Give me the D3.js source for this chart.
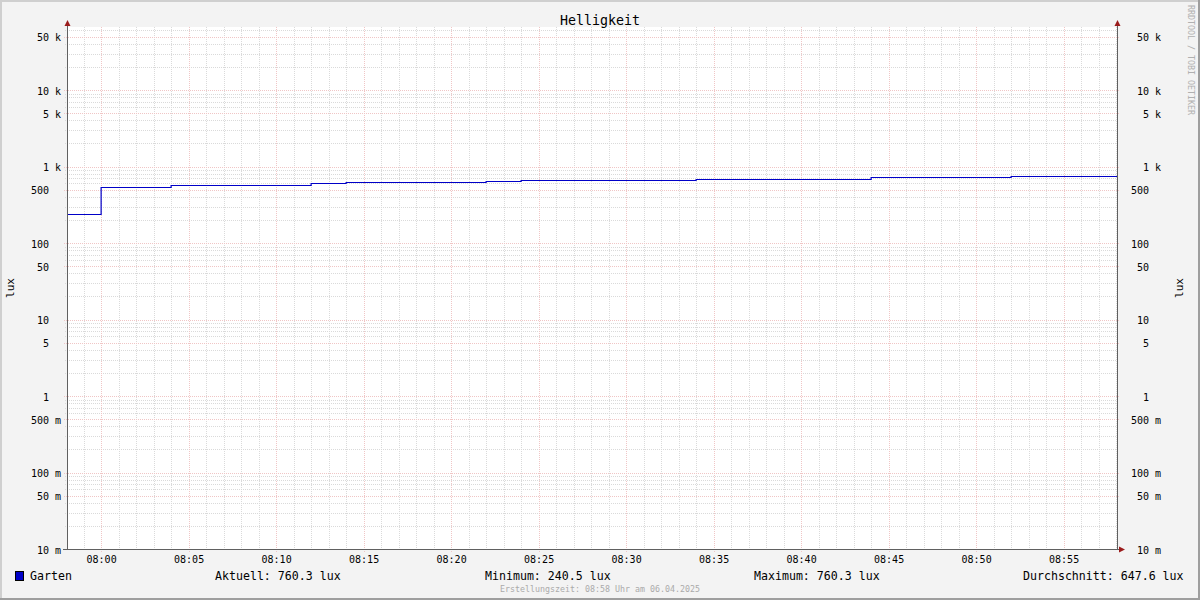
<!DOCTYPE html>
<html><head><meta charset="utf-8">
<script src="https://cdn.jsdelivr.net/npm/d3@7"></script>
<style>html,body{margin:0;padding:0;background:#f3f3f3;}svg{display:block;}</style>
</head><body>
<script>
// ---- data ----
const title = "Helligkeit";
const seriesName = "Garten";
const times = ["07:58:03","08:00:00","08:04:00","08:12:00","08:14:00","08:22:00","08:24:00","08:34:00","08:44:00","08:52:00","08:58:03"];
const values = [240.5, 532, 570, 600, 625, 645, 665, 688, 732, 760.3, 760.3];
const yTickValues = [0.01, 0.05, 0.1, 0.5, 1, 5, 10, 50, 100, 500, 1000, 5000, 10000, 50000];
const yTickNums = ["10","50","100","500","1","5","10","50","100","500","1","5","10","50"];
const yTickUnits = ["m","m","m","m"," "," "," "," "," "," ","k","k","k","k"];
const xTickLabels = ["08:00","08:05","08:10","08:15","08:20","08:25","08:30","08:35","08:40","08:45","08:50","08:55"];
const legendStats = ["Aktuell: 760.3 lux","Minimum: 240.5 lux","Maximum: 760.3 lux","Durchschnitt: 647.6 lux"];
const footer = "Erstellungszeit: 08:58 Uhr am 06.04.2025";
const watermark = "RRDTOOL / TOBI OETIKER";
const yLabel = "lux";

// ---- layout ----
const W = 1200, H = 600;
const X0 = 67, X1 = 1117, Y0 = 549, Y1 = 27;
const parse = s => { const [h,m,sec] = s.split(":").map(Number); return new Date(Date.UTC(2025,3,6,h,m,sec)); };
const start = parse(times[0]), end = parse(times[times.length-1]);
const x = d3.scaleUtc().domain([start, end]).range([X0, X1]);
const pxPerDecade = 76.5;
const yTop = Math.pow(10, -2 + (Y0 - Y1) / pxPerDecade);
const y = d3.scaleLog().domain([0.01, yTop]).range([Y0, Y1]);

const svg = d3.select("body").append("svg").attr("width", W).attr("height", H)
  .attr("font-family", "'DejaVu Sans Mono', monospace");

// background & frame
svg.append("rect").attr("width", W).attr("height", H).attr("fill", "#f3f3f3");
svg.append("rect").attr("x",0).attr("y",0).attr("width",W).attr("height",2).attr("fill","#cfcfcf");
svg.append("rect").attr("x",0).attr("y",0).attr("width",2).attr("height",H).attr("fill","#cfcfcf");
svg.append("rect").attr("x",W-2).attr("y",0).attr("width",2).attr("height",H).attr("fill","#9e9e9e");
svg.append("rect").attr("x",0).attr("y",H-2).attr("width",W).attr("height",2).attr("fill","#9e9e9e");

svg.append("rect").attr("x", X0).attr("y", Y1).attr("width", X1 - X0).attr("height", Y0 - Y1).attr("fill", "#ffffff");

const grid = svg.append("g").attr("shape-rendering", "crispEdges");
const minorCol = "#dadada", majorCol = "#f0c6c6";

// horizontal minor grid
const minorY = [];
for (let k = -2; k <= 4; k++) for (const m of [2,3,4,6,7,8,9]) { const v = m * Math.pow(10,k); if (v < yTop) minorY.push(v); }
grid.selectAll(".hmin").data(minorY).join("line")
  .attr("x1", X0 - 2).attr("x2", X1 + 2)
  .attr("y1", d => Math.round(y(d)) + 0.5).attr("y2", d => Math.round(y(d)) + 0.5)
  .attr("stroke", minorCol).attr("stroke-dasharray", "1,1");

// vertical minor grid (each minute)
const minuteTicks = d3.utcMinute.every(1).range(start, end).filter(d => d > start);
const fiveTicks = minuteTicks.filter(d => d.getUTCMinutes() % 5 === 0);
grid.selectAll(".vmin").data(minuteTicks.filter(d => d.getUTCMinutes() % 5 !== 0)).join("line")
  .attr("x1", d => Math.round(x(d)) + 0.5).attr("x2", d => Math.round(x(d)) + 0.5)
  .attr("y1", Y1).attr("y2", Y0 + 2)
  .attr("stroke", minorCol).attr("stroke-dasharray", "1,1");

// major grids
grid.selectAll(".hmaj").data(yTickValues).join("line")
  .attr("x1", X0 - 3).attr("x2", X1 + 3)
  .attr("y1", d => Math.round(y(d)) + 0.5).attr("y2", d => Math.round(y(d)) + 0.5)
  .attr("stroke", majorCol).attr("stroke-dasharray", "1,1");
grid.selectAll(".vmaj").data(fiveTicks).join("line")
  .attr("x1", d => Math.round(x(d)) + 0.5).attr("x2", d => Math.round(x(d)) + 0.5)
  .attr("y1", Y1).attr("y2", Y0 + 3)
  .attr("stroke", majorCol).attr("stroke-dasharray", "1,1");

// data line
const pts = times.map((t, i) => ({t: parse(t), v: values[i]}));
svg.append("path").datum(pts)
  .attr("d", d3.line().x(d => x(d.t)).y(d => Math.round(y(d.v)) + 0.5).curve(d3.curveStepAfter))
  .attr("fill", "none").attr("stroke", "#0000c8").attr("stroke-width", 1.2);

// axes lines
const ax = svg.append("g").attr("shape-rendering", "crispEdges").attr("stroke", "#606060");
ax.append("line").attr("x1", X0 + 0.5).attr("x2", X0 + 0.5).attr("y1", Y1 - 3).attr("y2", Y0 + 1);
ax.append("line").attr("x1", X1 + 0.5).attr("x2", X1 + 0.5).attr("y1", Y1 - 3).attr("y2", Y0 + 1);
ax.append("line").attr("x1", X0 - 4).attr("x2", X1 + 3).attr("y1", Y0 + 0.5).attr("y2", Y0 + 0.5);

// arrows
const arrowCol = "#9b1c1c";
svg.append("path").attr("d", `M${X0-2.5},${Y1-1}L${X0+0.5},${Y1-7}L${X0+3.5},${Y1-1}Z`).attr("fill", arrowCol);
svg.append("path").attr("d", `M${X1-2.5},${Y1-1}L${X1+0.5},${Y1-7}L${X1+3.5},${Y1-1}Z`).attr("fill", arrowCol);
svg.append("path").attr("d", `M${X1+2},${Y0-2.5}L${X1+8},${Y0+0.5}L${X1+2},${Y0+3.5}Z`).attr("fill", arrowCol);

// y tick labels
const tl = svg.append("g").attr("font-size", "10px").attr("fill", "#000");
tl.selectAll(".yl").data(yTickValues).join("text")
  .attr("x", X0 - 6).attr("y", d => y(d) + 4.5)
  .attr("text-anchor", "end").style("white-space", "pre")
  .text((d, i) => yTickNums[i] + " " + yTickUnits[i]);
tl.selectAll(".yr").data(yTickValues).join("text")
  .attr("x", X1 + 14).attr("y", d => y(d) + 4.5)
  .attr("text-anchor", "start").style("white-space", "pre")
  .text((d, i) => yTickNums[i].padStart(3, " ") + " " + yTickUnits[i]);

// x tick labels
tl.selectAll(".xl").data(fiveTicks).join("text")
  .attr("x", d => x(d) + 0.5).attr("y", Y0 + 14)
  .attr("text-anchor", "middle")
  .text((d, i) => xTickLabels[i]);

// title
svg.append("text").attr("x", 600).attr("y", 25).attr("text-anchor", "middle")
  .attr("font-size", "13.3px").attr("fill", "#000").text(title);

// y labels
svg.append("text").attr("transform", "translate(14,288) rotate(-90)").attr("text-anchor", "middle")
  .attr("font-size", "11px").attr("fill", "#000").text(yLabel);
svg.append("text").attr("transform", "translate(1183,288) rotate(-90)").attr("text-anchor", "middle")
  .attr("font-size", "11px").attr("fill", "#000").text(yLabel);

// watermark
svg.append("text").attr("transform", "translate(1188,5) rotate(90)").attr("text-anchor", "start")
  .attr("font-size", "8.3px").attr("fill", "#b0b0b0").text(watermark);

// legend
svg.append("rect").attr("x", 15.5).attr("y", 571.5).attr("width", 8).attr("height", 9)
  .attr("fill", "#0000c8").attr("stroke", "#000").attr("stroke-width", 1).attr("shape-rendering", "crispEdges");
const lg = svg.append("g").attr("font-size", "11.6px").attr("fill", "#000");
lg.append("text").attr("x", 30).attr("y", 580).text(seriesName);
const statX = [215, 485, 754, 1023];
lg.selectAll(".st").data(legendStats).join("text")
  .attr("x", (d, i) => statX[i]).attr("y", 580).style("white-space", "pre").text(d => d);

// footer
svg.append("text").attr("x", 600).attr("y", 592).attr("text-anchor", "middle")
  .attr("font-size", "8.3px").attr("fill", "#aaaaaa").text(footer);
</script>
</body></html>
